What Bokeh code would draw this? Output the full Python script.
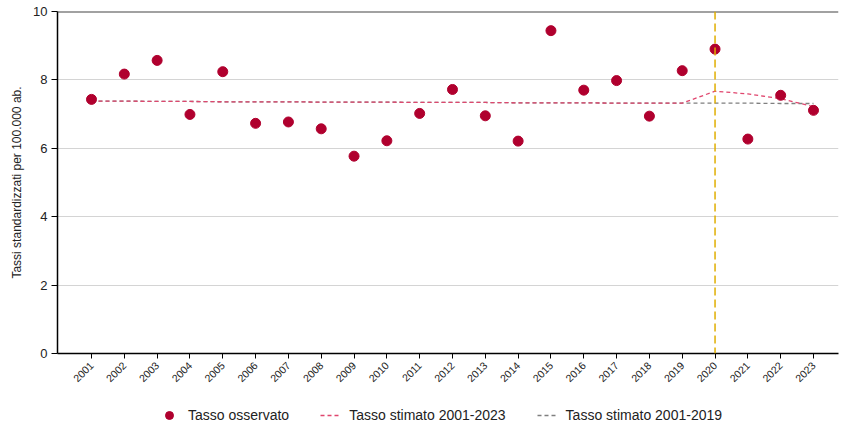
import math
from bokeh.plotting import figure
from bokeh.layouts import column
from bokeh.models import (ColumnDataSource, Range1d, FixedTicker, Span, Legend, LegendItem)
from bokeh.embed import file_html
from bokeh.resources import INLINE

years = list(range(2001, 2024))
observed = [7.43, 8.17, 8.57, 6.99, 8.24, 6.73, 6.77, 6.57, 5.77, 6.22, 7.02, 7.72,
            6.95, 6.21, 9.44, 7.70, 7.98, 6.94, 8.27, 8.90, 6.27, 7.55, 7.11]
fit_2001_2023 = [7.38, 7.38, 7.37, 7.37, 7.36, 7.36, 7.36, 7.35, 7.35, 7.35, 7.34, 7.34,
                 7.34, 7.33, 7.33, 7.33, 7.32, 7.32, 7.32, 7.67, 7.59, 7.45, 7.22]
fit_2001_2019 = [7.38, 7.38, 7.37, 7.37, 7.36, 7.36, 7.36, 7.35, 7.35, 7.35, 7.34, 7.34,
                 7.34, 7.33, 7.33, 7.33, 7.32, 7.32, 7.32, 7.32, 7.32, 7.31, 7.31]
y_ticks = [0, 2, 4, 6, 8, 10]
break_year = 2020
labels = ["Tasso osservato", "Tasso stimato 2001-2023", "Tasso stimato 2001-2019"]
y_title = "Tassi standardizzati per 100.000 ab."

src = ColumnDataSource(dict(year=years, obs=observed, f23=fit_2001_2023, f19=fit_2001_2019))

FONT = "Liberation Sans"
C_OBS = "#B0002E"
C_23 = "#E0466E"
C_19 = "#7f7f7f"

p = figure(width=841, height=395, output_backend="svg", toolbar_location=None,
           x_range=Range1d(1999.964, 2023.762), y_range=Range1d(0, 10),
           min_border_left=57, min_border_right=3, min_border_top=11, min_border_bottom=42)
p.outline_line_color = None
p.background_fill_color = "white"
p.border_fill_color = "white"

p.xaxis.ticker = FixedTicker(ticks=years)
p.xaxis.major_label_orientation = math.pi / 4
p.xaxis.major_label_text_font = FONT
p.xaxis.major_label_text_font_size = "10.5px"
p.xaxis.major_label_text_color = "#222222"
p.xaxis.minor_tick_line_color = None
p.xaxis.major_tick_out = 5
p.xaxis.major_tick_in = 0
p.xaxis.axis_line_color = "black"
p.xaxis.axis_line_width = 1.5
p.xaxis.major_tick_line_color = "black"

p.yaxis.ticker = FixedTicker(ticks=y_ticks)
p.yaxis.major_label_text_font = FONT
p.yaxis.major_label_text_font_size = "13px"
p.yaxis.major_label_text_color = "#222222"
p.yaxis.minor_tick_line_color = None
p.yaxis.major_tick_out = 6
p.yaxis.major_tick_in = 0
p.yaxis.major_label_standoff = 4
p.yaxis.axis_line_color = "black"
p.yaxis.axis_line_width = 1.5
p.yaxis.major_tick_line_color = "black"
p.yaxis.axis_label = y_title
p.yaxis.axis_label_text_font = FONT
p.yaxis.axis_label_text_font_size = "12px"
p.yaxis.axis_label_text_font_style = "normal"
p.yaxis.axis_label_text_color = "#222222"
p.yaxis.axis_label_standoff = 6

p.xgrid.grid_line_color = None
p.ygrid.ticker = FixedTicker(ticks=y_ticks)
p.ygrid.grid_line_color = "#d4d4d4"
p.ygrid.grid_line_width = 1

top = Span(location=10, dimension="width", line_color="#444444", line_width=2)
p.add_layout(top)

vline = Span(location=break_year, dimension="height", line_color="#E0AE00",
             line_width=1.5, line_dash="8 4")
p.add_layout(vline)

p.line("year", "f19", source=src, line_color=C_19, line_width=1.3, line_dash="4 3")
p.line("year", "f23", source=src, line_color=C_23, line_width=1.3, line_dash="4 3")
p.scatter("year", "obs", source=src, size=10, marker="circle",
          fill_color=C_OBS, line_color=C_OBS)

# legend strip below the chart (its glyph renderers hold points outside the view)
lg = figure(width=841, height=30, output_backend="svg", toolbar_location=None,
            x_axis_type=None, y_axis_type=None, x_range=Range1d(0, 1), y_range=Range1d(0, 1),
            min_border=0)
lg.outline_line_color = None
lg.xgrid.grid_line_color = None
lg.ygrid.grid_line_color = None
hidden = ColumnDataSource(dict(x=[-10, -9], y=[-10, -10]))
l_obs = lg.scatter("x", "y", source=hidden, size=10, marker="circle",
                   fill_color=C_OBS, line_color=C_OBS)
l_23 = lg.line("x", "y", source=hidden, line_color=C_23, line_width=1.3, line_dash="4 3")
l_19 = lg.line("x", "y", source=hidden, line_color=C_19, line_width=1.3, line_dash="4 3")

legend = Legend(items=[LegendItem(label=labels[0], renderers=[l_obs]),
                       LegendItem(label=labels[1], renderers=[l_23]),
                       LegendItem(label=labels[2], renderers=[l_19])],
                orientation="horizontal", location=(102, 0),
                label_text_font=FONT, label_text_font_size="14px", label_text_color="#222222",
                glyph_width=20, glyph_height=20, label_height=20, label_standoff=9,
                spacing=31, padding=0, margin=0, border_line_color=None,
                background_fill_alpha=0)
lg.add_layout(legend, "center")

layout = column(p, lg, spacing=0)
open("out.html", "w").write(file_html(layout, INLINE))
